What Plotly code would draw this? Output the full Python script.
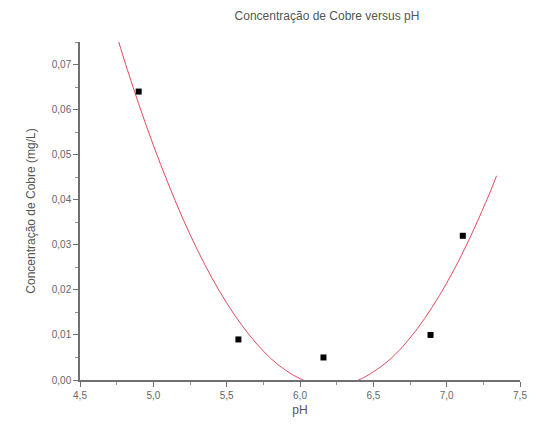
import plotly.graph_objects as go

# Measured data points
ph = [4.90, 5.58, 6.16, 6.89, 7.11]
cobre = [0.064, 0.009, 0.005, 0.010, 0.032]

# Fitted curve (clipped below 0 / above top by axis)
curve_x = [4.75, 4.80, 4.90, 5.00, 5.10, 5.20, 5.30, 5.40, 5.50, 5.60, 5.70, 5.80, 5.90,
           6.00, 6.10, 6.20, 6.30, 6.40, 6.50, 6.60, 6.70, 6.80, 6.90, 7.00, 7.10, 7.20,
           7.30, 7.34]
curve_y = [0.0766, 0.0712, 0.0613, 0.0521, 0.0437, 0.0359, 0.0289, 0.0226, 0.0171, 0.0123,
           0.0082, 0.0048, 0.0022, 0.0003, -0.0009, -0.0013, -0.0010, 0.0, 0.0018, 0.0042,
           0.0074, 0.0114, 0.0161, 0.0215, 0.0276, 0.0345, 0.0420, 0.0453]

x_ticks = [4.5, 5.0, 5.5, 6.0, 6.5, 7.0, 7.5]
y_ticks = [0.00, 0.01, 0.02, 0.03, 0.04, 0.05, 0.06, 0.07]

fig = go.Figure()
fig.add_trace(go.Scatter(x=curve_x, y=curve_y, mode="lines", line_shape="spline",
                         line=dict(color="#e24a62", width=1), hoverinfo="skip"))
fig.add_trace(go.Scatter(x=ph, y=cobre, mode="markers",
                         marker=dict(symbol="square", size=6, color="black")))

font = "Liberation Sans, Arial, sans-serif"
axis_common = dict(showline=True, linecolor="#707070", linewidth=1.5, ticks="outside",
                   ticklen=5, tickwidth=1, tickcolor="#707070", showgrid=False, zeroline=False,
                   tickfont=dict(family=font, size=10, color="#666"), mirror=False)

fig.update_layout(
    width=539, height=436,
    margin=dict(l=80, r=17, t=42, b=56),
    paper_bgcolor="white", plot_bgcolor="white",
    separators=",.",
    showlegend=False,
    title=dict(text="Concentração de Cobre versus pH", x=327 / 539, xanchor="center",
               y=1 - 16 / 436, yanchor="middle", font=dict(family=font, size=12, color="#555")),
    xaxis=dict(range=[4.5, 7.5], tickvals=x_ticks, tickformat=".1f",
               minor=dict(ticks="outside", ticklen=3, tickcolor="#909090", dtick=0.25),
               title=dict(text="pH", font=dict(family=font, size=12, color="#555"), standoff=6),
               **axis_common),
    yaxis=dict(range=[0, 0.075], tickvals=y_ticks, tickformat=".2f",
               minor=dict(ticks="outside", ticklen=3, tickcolor="#909090", dtick=0.005),
               title=dict(text="Concentração de Cobre (mg/L)",
                          font=dict(family=font, size=12, color="#555"), standoff=14),
               **axis_common),
)

fig.write_html("out.html")
